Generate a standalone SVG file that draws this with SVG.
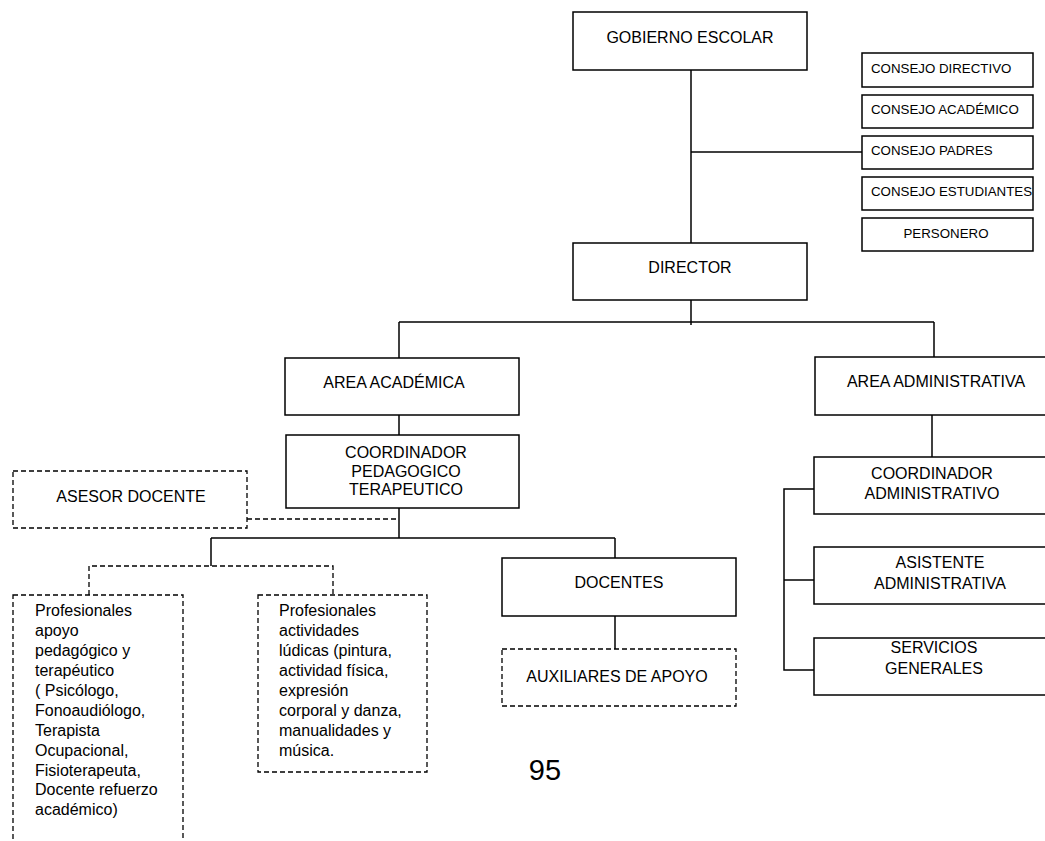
<svg xmlns="http://www.w3.org/2000/svg" width="1045" height="841" viewBox="0 0 1045 841">
<style>
text{font-family:"Liberation Sans",Arial,sans-serif;fill:#000}
.t{font-size:16px}
.s{font-size:13.3px}
.m{text-anchor:middle}
.box{fill:#fff;stroke:#000;stroke-width:1.5}
.dbox{fill:#fff;stroke:#000;stroke-width:1.3;stroke-dasharray:5,3}
.ln{fill:none;stroke:#000;stroke-width:1.5}
.dl{fill:none;stroke:#000;stroke-width:1.3;stroke-dasharray:5,3}
</style>
<rect width="1045" height="841" fill="#fff"/>
<g id="connectors">
<line class="ln" x1="691" y1="70" x2="691" y2="243"/>
<line class="ln" x1="691" y1="152" x2="862" y2="152"/>
<line class="ln" x1="691" y1="300" x2="691" y2="325"/>
<line class="ln" x1="399" y1="322" x2="934" y2="322"/>
<line class="ln" x1="399" y1="322" x2="399" y2="358"/>
<line class="ln" x1="934" y1="322" x2="934" y2="358"/>
<line class="ln" x1="399" y1="415" x2="399" y2="435"/>
<line class="ln" x1="399" y1="508" x2="399" y2="538"/>
<polyline class="dl" points="247,519 399,519"/>
<line class="ln" x1="211" y1="538" x2="615" y2="538"/>
<line class="ln" x1="211" y1="538" x2="211" y2="566"/>
<line class="ln" x1="615" y1="538" x2="615" y2="558"/>
<polyline class="dl" points="89,595 89,566 333,566 333,595"/>
<line class="ln" x1="615" y1="616" x2="615" y2="649"/>
<line class="ln" x1="932" y1="415" x2="932" y2="457"/>
<polyline class="ln" points="814,489 784,489 784,670 814,670"/>
<line class="ln" x1="784" y1="580" x2="814" y2="580"/>
</g>
<g id="gobierno"><rect class="box" x="573" y="12" width="234" height="58"/><text class="t m" x="690" y="43">GOBIERNO ESCOLAR</text></g>
<g id="consejo-directivo"><rect class="box" x="862" y="53" width="171" height="34"/><text class="s" x="871" y="73">CONSEJO DIRECTIVO</text></g>
<g id="consejo-academico"><rect class="box" x="862" y="95" width="171" height="33"/><text class="s" x="871" y="114">CONSEJO ACADÉMICO</text></g>
<g id="consejo-padres"><rect class="box" x="862" y="136" width="171" height="33"/><text class="s" x="871" y="155">CONSEJO PADRES</text></g>
<g id="consejo-estudiantes"><rect class="box" x="862" y="177" width="171" height="33"/><text class="s" x="871" y="196">CONSEJO ESTUDIANTES</text></g>
<g id="personero"><rect class="box" x="862" y="218" width="171" height="33"/><text class="s m" x="946" y="238">PERSONERO</text></g>
<g id="director"><rect class="box" x="573" y="243" width="234" height="57"/><text class="t m" x="690" y="273">DIRECTOR</text></g>
<g id="area-academica"><rect class="box" x="285" y="358" width="234" height="57"/><text class="t m" x="394" y="388">AREA ACADÉMICA</text></g>
<g id="area-administrativa"><rect class="box" x="815" y="357" width="234" height="58"/><text class="t m" x="936" y="387">AREA ADMINISTRATIVA</text></g>
<g id="coordinador-pedagogico"><rect class="box" x="286" y="435" width="233" height="73"/><text class="t m" x="406" y="458">COORDINADOR</text><text class="t m" x="406" y="477">PEDAGOGICO</text><text class="t m" x="406" y="495">TERAPEUTICO</text></g>
<g id="asesor-docente"><rect class="dbox" x="13" y="471" width="234" height="57"/><text class="t m" x="131" y="502">ASESOR DOCENTE</text></g>
<g id="profesionales-apoyo"><rect class="dbox" x="13" y="595" width="170" height="260"/>
<text class="t" x="35" y="616">Profesionales</text>
<text class="t" x="35" y="636">apoyo</text>
<text class="t" x="35" y="656">pedagógico y</text>
<text class="t" x="35" y="676">terapéutico</text>
<text class="t" x="35" y="696">( Psicólogo,</text>
<text class="t" x="35" y="716">Fonoaudiólogo,</text>
<text class="t" x="35" y="736">Terapista</text>
<text class="t" x="35" y="756">Ocupacional,</text>
<text class="t" x="35" y="776">Fisioterapeuta,</text>
<text class="t" x="35" y="795">Docente refuerzo</text>
<text class="t" x="35" y="815">académico)</text>
</g>
<g id="profesionales-ludicas"><rect class="dbox" x="258" y="595" width="169" height="177"/>
<text class="t" x="279" y="616">Profesionales</text>
<text class="t" x="279" y="636">actividades</text>
<text class="t" x="279" y="656">lúdicas (pintura,</text>
<text class="t" x="279" y="676">actividad física,</text>
<text class="t" x="279" y="696">expresión</text>
<text class="t" x="279" y="716">corporal y danza,</text>
<text class="t" x="279" y="736">manualidades y</text>
<text class="t" x="279" y="756">música.</text>
</g>
<g id="docentes"><rect class="box" x="502" y="558" width="234" height="58"/><text class="t m" x="619" y="588">DOCENTES</text></g>
<g id="auxiliares"><rect class="dbox" x="502" y="649" width="234" height="57"/><text class="t m" x="617" y="682">AUXILIARES DE APOYO</text></g>
<g id="coordinador-administrativo"><rect class="box" x="814" y="457" width="234" height="57"/><text class="t m" x="932" y="479">COORDINADOR</text><text class="t m" x="932" y="499">ADMINISTRATIVO</text></g>
<g id="asistente-administrativa"><rect class="box" x="814" y="547" width="234" height="57"/><text class="t m" x="940" y="568">ASISTENTE</text><text class="t m" x="940" y="589">ADMINISTRATIVA</text></g>
<g id="servicios-generales"><rect class="box" x="814" y="638" width="234" height="57"/><text class="t m" x="934" y="653">SERVICIOS</text><text class="t m" x="934" y="674">GENERALES</text></g>
<text x="545" y="780" font-size="29" text-anchor="middle" style="font-family:'Liberation Sans',Arial,sans-serif">95</text>
</svg>
